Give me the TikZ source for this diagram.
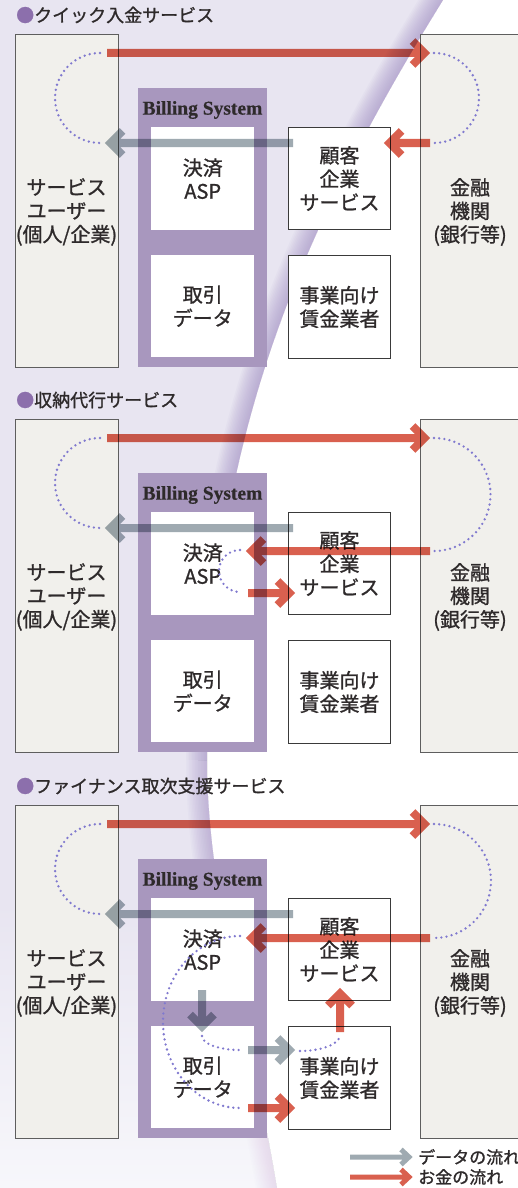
\documentclass[tikz,border=0pt]{standalone}
\usepackage{fontspec}
\usepackage{graphicx}
\newfontfamily\jp{Noto Sans CJK JP}[FakeBold=1.1]
\newfontfamily\billfont{Liberation Serif}[BoldFeatures={FakeBold=0.6}]
\usetikzlibrary{calc}
\definecolor{lav}{HTML}{E8E5F1}
\definecolor{lavlight}{HTML}{F7F7FB}
\definecolor{bandc}{HTML}{9F8BC4}
\definecolor{billing}{HTML}{A897BE}
\definecolor{sidefill}{HTML}{F1F0EC}
\definecolor{boxline}{HTML}{5E5E5E}
\definecolor{corpline}{HTML}{3A3A3A}
\definecolor{moneyc}{HTML}{D9604F}
\definecolor{datac}{HTML}{9FAAB1}
\definecolor{dotc}{HTML}{8079CF}
\definecolor{bulletc}{HTML}{8C6FAC}
\definecolor{txt}{HTML}{2E2A2B}
\pgfdeclareverticalshading{bgshade}{100bp}{color(0bp)=(lavlight); color(25bp)=(lavlight); color(37bp)=(lav); color(75bp)=(lav); color(100bp)=(lav)}

\newcommand\flowarrow[6]{% color, width, head length, head half width, from, to
  \coordinate (faP) at ($(#6)!#3!(#5)$);
  \draw[#1, line width=#2, line join=miter, miter limit=10, blend mode=multiply]
    (#5) -- (#6) ($(faP)!#4!90:(#6)$) -- (#6) -- ($(faP)!#4!-90:(#6)$);
}
\newcommand\drawpanel[3]{%
 \begin{scope}[shift={(0,#2)}]
  \node[titletext] (title#1) at (16,15) {{\color{bulletc}●}#3};
  \node[sidebox] (user#1) at (15,34) {};
  \node[sidebox, minimum width=115pt] (bank#1) at (420,34) {};
  \node[jptext] (userT#1) at (66.5,212) {サービス\\ユーザー\\(個人/企業)};
  \node[jptext] (bankT#1) at (470,212) {金融\\機関\\(銀行等)};
  \node[billbox] (bill#1) at (138,88) {};
  \node[billtitle] (billT#1) at (202.5,110) {Billing System};
  \node[innerbox, minimum height=103pt] (asp#1) at (151,127) {決済\\ASP};
  \node[innerbox, minimum height=102pt] (tx#1) at (151,255) {取引\\データ};
  \node[corpbox, minimum height=102pt] (client#1) at (288,127) {顧客\\企業\\サービス};
  \node[corpbox, minimum height=103pt] (lender#1) at (288,255) {事業向け\\賃金業者};
  \coordinate (mS#1) at (107,53);
  \coordinate (mE#1) at (424.5,53);
  \coordinate (dS#1) at (293,143);
  \coordinate (dE#1) at (110.5,143);
  \draw[dots] (100,53) arc[start angle=270,end angle=90,radius=45];
 \end{scope}}

\begin{document}
\begin{tikzpicture}[x=1pt,y=-1pt,
  jptext/.style={font=\jp\fontsize{20}{23.5}\selectfont, text=txt, align=center, inner sep=0pt},
  titletext/.style={font=\jp\fontsize{18}{20}\selectfont, text=txt, anchor=west, inner sep=0pt},
  sidebox/.style={draw=boxline, line width=1.2pt, fill=sidefill, minimum width=103pt, minimum height=333pt, inner sep=0pt, anchor=north west},
  billbox/.style={fill=billing, minimum width=129pt, minimum height=279pt, inner sep=0pt, anchor=north west},
  billtitle/.style={font=\billfont\bfseries\fontsize{19.5}{21}\selectfont, text=txt, inner sep=0pt},
  innerbox/.style={jptext, fill=white, minimum width=103pt, anchor=north west},
  corpbox/.style={jptext, fill=white, draw=corpline, line width=1pt, minimum width=102pt, anchor=north west},
  dots/.style={draw=dotc, line width=2.6pt, line cap=round, dash pattern=on 0pt off 5.2pt},
  legendtext/.style={font=\jp\fontsize{17}{19}\selectfont, text=txt, anchor=west, inner sep=0pt}
]
\useasboundingbox (0,0) rectangle (518,1188);
% background
\fill[white] (0,0) rectangle (518,1188);
\path[shading=bgshade] (0,0) -- (443,0) .. controls (288,250) and (207,460) .. (207,760)
   .. controls (207,900) and (255,1050) .. (277,1188) -- (0,1188) -- cycle;
\begin{scope}
\clip (0,0) -- (443,0) .. controls (288,250) and (207,460) .. (207,760)
   .. controls (207,900) and (255,1050) .. (277,1188) -- (0,1188) -- cycle;
\foreach \bw in {3,6,...,42}{
  \draw[bandc, line width=\bw pt, opacity=0.055] (443,0) .. controls (288,250) and (207,460) .. (207,760);
  \draw[bandc, line width=\bw pt, opacity=0.042] (207,760) .. controls (207,830) and (219,902.5) .. (233.75,974.75);
  \draw[bandc, line width=\bw pt, opacity=0.012] (233.75,974.75) .. controls (248.5,1047) and (266,1119) .. (277,1188);
}
\end{scope}

% panels
\drawpanel{A}{0}{クイック入金サービス}
\drawpanel{B}{385}{収納代行サービス}
\drawpanel{C}{771}{ファイナンス取次支援サービス}

% right dotted arcs
\draw[dots] (434,53) arc[start angle=-90,end angle=90,radius=45];
\draw[dots] (434,438) arc[start angle=-90,end angle=90,radius=56.5];
\draw[dots] (434,824) arc[start angle=-90,end angle=90,radius=57];
% inner dotted arcs
\draw[dots] (240,550) arc[start angle=270,end angle=90,radius=21];
\draw[dots] (240,936) arc[start angle=270,end angle=90,x radius=77,y radius=86];
\draw[dots] (202,1036) arc[start angle=180,end angle=90,x radius=38,y radius=14];
\draw[dots] (300,1051) arc[start angle=90,end angle=0,x radius=40,y radius=16];

% coordinates for the extra arrows
\coordinate (bA1) at (430,143);  \coordinate (cA1) at (389.5,143);
\coordinate (bB1) at (430,551);  \coordinate (aB1) at (251.5,551);
\coordinate (aB2) at (248,593);  \coordinate (cB2) at (289.5,593);
\coordinate (bC1) at (430,938);  \coordinate (aC1) at (251.5,938);
\coordinate (aC2) at (202,990);  \coordinate (tC2) at (202,1026.5);
\coordinate (tC3) at (248,1050); \coordinate (lC3) at (289.5,1050);
\coordinate (tC4) at (248,1108); \coordinate (lC4) at (289.5,1108);
\coordinate (lC5) at (340,1032); \coordinate (cC5) at (340,993.5);

% arrows
\foreach \s in {A,B,C}{
  \flowarrow{moneyc}{8pt}{12pt}{12pt}{mS\s}{mE\s}
  \flowarrow{datac}{8pt}{12pt}{12pt}{dS\s}{dE\s}
}
\flowarrow{moneyc}{8pt}{12pt}{12pt}{bA1}{cA1}
\flowarrow{moneyc}{8pt}{12pt}{12pt}{bB1}{aB1}
\flowarrow{moneyc}{8pt}{12pt}{12pt}{aB2}{cB2}
\flowarrow{moneyc}{8pt}{12pt}{12pt}{bC1}{aC1}
\flowarrow{datac}{8pt}{12pt}{12pt}{aC2}{tC2}
\flowarrow{datac}{8pt}{12pt}{12pt}{tC3}{lC3}
\flowarrow{moneyc}{8pt}{12pt}{12pt}{tC4}{lC4}
\flowarrow{moneyc}{8pt}{12pt}{12pt}{lC5}{cC5}

% legend
\coordinate (lgS1) at (350,1157); \coordinate (lgE1) at (409,1157);
\coordinate (lgS2) at (350,1177); \coordinate (lgE2) at (409,1177);
\flowarrow{datac}{5pt}{8pt}{7.5pt}{lgS1}{lgE1}
\flowarrow{moneyc}{5pt}{8pt}{7.5pt}{lgS2}{lgE2}
\node[legendtext] (lg1) at (418,1157) {データの流れ};
\node[legendtext] (lg2) at (418,1177) {お金の流れ};
\end{tikzpicture}
\end{document}
